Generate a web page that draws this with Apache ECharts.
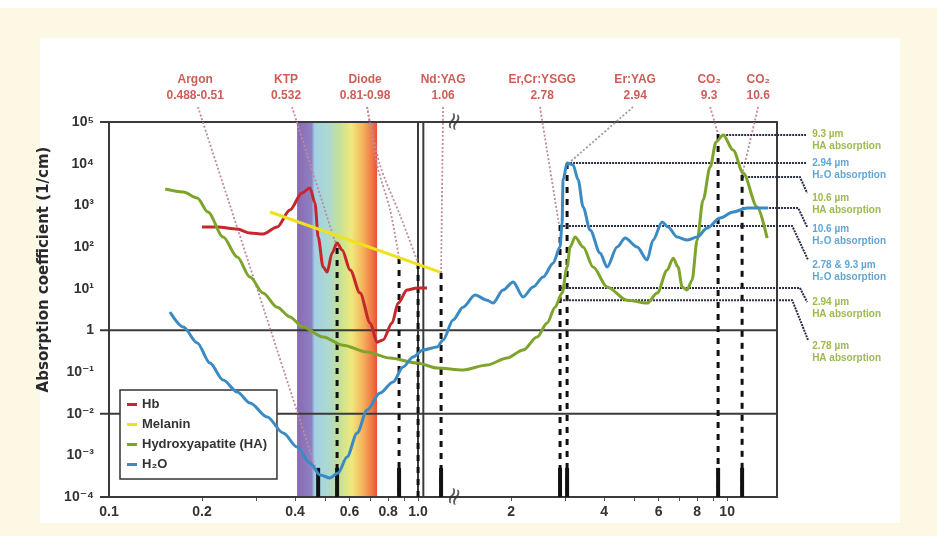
<!DOCTYPE html>
<html>
<head>
<meta charset="utf-8">
<script src="https://cdn.jsdelivr.net/npm/echarts@6/dist/echarts.min.js"></script>
<style>
  html, body { margin: 0; padding: 0; background: #fcf8e4; }
  #chart { width: 937px; height: 536px; }
</style>
</head>
<body>
<div id="chart"></div>
<script>
// wavelength (um) vs absorption coefficient (1/cm)
const hbData = [[0.200,302],[0.224,302],[0.260,270],[0.286,217],[0.315,205],[0.350,302],[0.385,773],[0.421,1977],[0.447,2606],[0.464,1138],[0.475,174],[0.493,33],[0.508,25],[0.527,72],[0.547,125],[0.568,85],[0.603,28],[0.649,7.9],[0.700,1.5],[0.737,0.52],[0.770,0.59],[0.824,1.5],[0.862,4.5],[0.921,9.3],[0.993,10.4],[1.069,10.4]]
const melaninData = [[0.332,692],[1.178,25]]
const haData = [[0.152,2466],[0.174,2089],[0.193,1500],[0.209,692],[0.234,174],[0.260,57.5],[0.286,19],[0.315,7.9],[0.350,3.6],[0.385,2.1],[0.424,1.2],[0.493,0.69],[0.572,0.44],[0.684,0.30],[0.812,0.217],[0.993,0.164],[1.152,0.125],[1.398,0.112],[1.672,0.147],[1.941,0.217],[2.187,0.337],[2.427,0.69],[2.616,1.5],[2.776,3.6],[2.924,7.9],[3.035,33],[3.104,100],[3.222,174],[3.42,100],[3.685,33],[4.09,11],[4.747,5.3],[5.51,4.5],[5.94,7.9],[6.40,28],[6.69,54],[6.94,33],[7.15,11],[7.42,9.3],[7.70,16],[8.00,147],[8.36,1343],[8.81,8318],[9.21,33113],[9.71,48753],[10.45,21280],[11.27,5970],[12.51,912],[13.47,164]]
const waterData = [[0.1575,2.75],[0.174,1.2],[0.193,0.50],[0.212,0.164],[0.234,0.0643],[0.260,0.0331],[0.286,0.018],[0.325,0.0083],[0.366,0.00344],[0.406,0.00158],[0.447,0.000655],[0.482,0.000337],[0.519,0.000286],[0.551,0.000377],[0.589,0.000912],[0.635,0.00344],[0.684,0.0122],[0.753,0.0313],[0.830,0.0575],[0.894,0.132],[0.963,0.229],[1.038,0.337],[1.152,0.398],[1.205,0.59],[1.298,1.77],[1.398,3.6],[1.529,7.0],[1.672,5.3],[1.748,4.5],[1.884,9.3],[2.03,14.5],[2.187,6.3],[2.356,11],[2.539,19],[2.735,41],[2.88,100],[2.924,377],[2.946,4055],[3.035,10375],[3.175,9290],[3.296,4055],[3.42,912],[3.603,256],[3.88,72],[4.09,33],[4.406,100],[4.677,164],[5.114,100],[5.51,48.8],[5.76,147],[6.16,398],[6.44,302],[6.89,174],[7.42,147],[8.00,174],[8.62,286],[9.49,497],[10.45,692],[11.61,863],[13.57,863]]

// axes
const xMin = 0.1, xMax = 14.5
const yMin = 1e-4, yMax = 1e5
const xTickValues = [0.1,0.2,0.4,0.6,0.8,1,2,4,6,8,10]
const xTickText = ['0.1','0.2','0.4','0.6','0.8','1.0','2','4','6','8','10']
const xMinorTicks = [0.2,0.3,0.4,0.5,0.6,0.7,0.8,0.9,1,2,3,4,5,6,7,8,9,10]
const gridLevels = [1e5,1,1e-2,1e-4]
const gridStartX = 0.0935
const axisBreakX = 1.04
const breakMarkX = 1.32
const visibleBand = [0.406,0.737]

// lasers
const laserLabels = ['Argon\n0.488-0.51','KTP\n0.532','Diode\n0.81-0.98','Nd:YAG\n1.06','Er,Cr:YSGG\n2.78','Er:YAG\n2.94','CO\u2082\n9.3','CO\u2082\n10.6']
const laserLabelX = [0.19,0.374,0.674,1.205,2.52,5.04,8.74,12.6]
const laserLabelY = 6.55e5
const dashX = [0.547,0.868,1.0,1.187,2.88,3.035,9.35,11.18]
const dashTop = [94.6,54.5,41.3,23.8,337,10375,51500,5400]
const stubX = [0.475,0.547,0.868,1.187,2.88,3.035,9.35,11.18]
const stubTop = 5e-4
const leaderPaths = [
  [[0.194,2.29e5],[0.468,4.46e-4]],
  [[0.391,2.29e5],[0.547,94.6]],
  [[0.684,2.29e5],[0.737,9290],[0.812,773],[0.868,54.5]],
  [[0.684,2.29e5],[0.753,9290],[0.874,586],[1.0,41.3]],
  [[1.205,2.29e5],[1.187,23.8]],
  [[2.48,2.29e5],[2.86,337]],
  [[4.96,2.29e5],[3.104,10960]],
  [[8.81,2.29e5],[9.35,51500]],
  [[12.6,2.29e5],[11.18,5400]]
]

// right-hand annotations
const annoText = ['9.3 \u00b5m\nHA absorption','2.94 \u00b5m\nH\u2082O absorption','10.6 \u00b5m\nHA absorption','10.6 \u00b5m\nH\u2082O absorption','2.78 & 9.3 \u00b5m\nH\u2082O absorption','2.94 \u00b5m\nHA absorption','2.78 \u00b5m\nHA absorption']
const annoKind = ['HA','H2O','HA','H2O','H2O','HA','HA']
const annoLabelX = 18.84
const annoLabelY = [37000,7244,1047,189,26.5,3.34,0.294]
const annoPaths = [
  [[9.71,48750],[18.0,48750]],
  [[3.035,10375],[18.0,10375]],
  [[11.18,4786],[17.2,4786],[18.15,1977]],
  [[11.18,863],[16.98,863],[18.15,302]],
  [[2.88,319],[16.24,319],[18.28,48.8]],
  [[2.88,10.4],[17.2,10.4],[18.15,4.8]],
  [[2.88,5.3],[16.24,5.3],[18.28,0.58]]
]

const FONT = "'Liberation Sans', 'DejaVu Sans', sans-serif"
const RED = '#c4282c', YEL = '#efe21c', GRN = '#7fa42c', BLU = '#3a8bc3'
const annoColor = { HA: '#86a824', H2O: '#3b8ec6' }
const SUP = { '-': '\u207b', '0': '\u2070', '1': '\u00b9', '2': '\u00b2', '3': '\u00b3', '4': '\u2074', '5': '\u2075' }

// polylines in data space; custom series so they may run past the axis range
function pathSeries(paths, styleOf, z, smooth) {
  return {
    type: 'custom', clip: false, silent: true, z: z,
    data: paths.map(p => p[0]),
    renderItem: (params, api) => {
      const p = paths[params.dataIndex]
      return {
        type: 'polyline',
        shape: { points: p.map(pt => api.coord(pt)), smooth: smooth || 0 },
        style: Object.assign({ fill: null }, styleOf(params.dataIndex))
      }
    }
  }
}

function curve(name, data, color) {
  return {
    type: 'line', name: name, data: data, symbol: 'none', clip: false,
    smooth: 0.3, smoothMonotone: 'x', z: 6,
    itemStyle: { color: color },
    lineStyle: { color: color, width: 3 }
  }
}

const series = []

// visible spectrum band
series.push({
  type: 'line', data: [[visibleBand[0], yMin]], symbol: 'none', silent: true, z: 1,
  lineStyle: { width: 0 },
  markArea: {
    silent: true,
    itemStyle: {
      color: new echarts.graphic.LinearGradient(0, 0, 1, 0, [
        { offset: 0, color: '#8a6ab0' }, { offset: 0.18, color: '#8e80c2' },
        { offset: 0.22, color: '#a2d1e4' }, { offset: 0.4, color: '#aed9d0' },
        { offset: 0.52, color: '#c2e098' }, { offset: 0.68, color: '#efe97c' },
        { offset: 0.82, color: '#f5b45c' }, { offset: 0.93, color: '#f07c46' },
        { offset: 1, color: '#e9503a' }
      ])
    },
    data: [[{ coord: [visibleBand[0], yMin] }, { coord: [visibleBand[1], yMax] }]]
  }
})

// reference lines, break line
const refPaths = gridLevels.map(v => [[gridStartX, v], [xMax, v]])
refPaths.push([[axisBreakX, yMin], [axisBreakX, yMax]])
series.push(pathSeries(refPaths, () => ({ stroke: '#3a3a3a', lineWidth: 2 }), 2))

// laser wavelength markers
series.push(pathSeries(dashX.map((x, i) => [[x, dashTop[i]], [x, yMin]]),
  () => ({ stroke: '#111', lineWidth: 3, lineDash: [6, 6] }), 3))
series.push(pathSeries(stubX.map(x => [[x, stubTop], [x, yMin]]),
  () => ({ stroke: '#111', lineWidth: 4 }), 3))
series.push(pathSeries(leaderPaths,
  i => ({ stroke: i === 6 ? '#9c9aa8' : '#c08aa0', lineWidth: 1.8, lineDash: [2, 2] }), 3, 0.3))

// right-hand leaders
series.push(pathSeries(annoPaths, () => ({ stroke: '#2b2d45', lineWidth: 2, lineDash: [2, 1] }), 3))

// curves
series.push(curve('Hb', hbData, RED))
series.push(curve('Melanin', melaninData, YEL))
series.push(curve('Hydroxyapatite (HA)', haData, GRN))
series.push(curve('H\u2082O', waterData, BLU))

// laser names above the frame
series.push({
  type: 'scatter', symbolSize: 0, clip: false, silent: true, z: 7,
  data: laserLabels.map((t, i) => ({ name: t, value: [laserLabelX[i], laserLabelY] })),
  label: {
    show: true, position: 'inside', formatter: '{b}', color: '#c2332d',
    fontFamily: FONT, fontWeight: 'bold', fontSize: 12, lineHeight: 16
  }
})

// annotation texts on the right
series.push({
  type: 'scatter', symbolSize: 0, clip: false, silent: true, z: 7,
  data: annoText.map((t, i) => ({
    name: t, value: [annoLabelX, annoLabelY[i]],
    label: { color: annoColor[annoKind[i]] }
  })),
  label: {
    show: true, position: 'right', distance: 0, formatter: '{b}', align: 'left',
    fontFamily: FONT, fontWeight: 'bold', fontSize: 10, lineHeight: 12
  }
})

// axis break marks
series.push({
  type: 'scatter', symbolSize: 0, clip: false, silent: true, z: 7,
  data: [[breakMarkX, yMax], [breakMarkX, yMin]],
  label: { show: true, position: 'inside', formatter: '\u2248', rotate: 70, fontSize: 24, color: '#333', fontFamily: 'DejaVu Sans' }
})

const chart = echarts.init(document.getElementById('chart'))
chart.setOption({
  animation: false,
  backgroundColor: '#fcf8e4',
  textStyle: { fontFamily: FONT },
  graphic: [
    { type: 'rect', z: -10, shape: { x: 0, y: 0, width: 937, height: 8 }, style: { fill: '#ffffff' } },
    { type: 'rect', z: -10, shape: { x: 40, y: 38, width: 860, height: 485 }, style: { fill: '#ffffff' } }
  ],
  grid: {
    left: 109, right: 160, top: 122, bottom: 39,
    show: true, borderColor: '#3a3a3a', borderWidth: 2, backgroundColor: 'transparent'
  },
  legend: {
    data: ['Hb', 'Melanin', 'Hydroxyapatite (HA)', 'H\u2082O'],
    orient: 'vertical', left: 120, top: 390,
    icon: 'rect', itemWidth: 10, itemHeight: 3, itemGap: 7,
    padding: [8, 10, 8, 7],
    backgroundColor: '#ffffff', borderColor: '#333', borderWidth: 1.5, borderRadius: 0,
    textStyle: { fontFamily: FONT, fontWeight: 'bold', fontSize: 13, color: '#333' }
  },
  xAxis: [
    {
      type: 'log', logBase: 10, min: xMin, max: xMax,
      axisLine: { show: true, lineStyle: { color: '#3a3a3a', width: 2 } },
      axisTick: { show: false }, axisLabel: { show: false }, splitLine: { show: false }
    },
    {
      type: 'value', position: 'bottom', min: Math.log10(xMin), max: Math.log10(xMax),
      axisLine: { show: false },
      axisTick: { show: true, customValues: xMinorTicks.map(Math.log10), length: 4, lineStyle: { color: '#555', width: 1 } },
      axisLabel: {
        customValues: xTickValues.map(Math.log10),
        formatter: v => {
          let best = 0
          xTickValues.forEach((t, i) => { if (Math.abs(Math.log10(t) - v) < Math.abs(Math.log10(xTickValues[best]) - v)) best = i })
          return xTickText[best]
        },
        margin: 8, fontSize: 14, fontWeight: 'bold', color: '#333', fontFamily: FONT
      },
      splitLine: { show: false }
    }
  ],
  yAxis: {
    type: 'log', logBase: 10, min: yMin, max: yMax, splitNumber: 9,
    name: 'Absorption coefficient (1/cm)', nameLocation: 'middle', nameGap: 57,
    nameTextStyle: { fontFamily: 'DejaVu Sans', fontWeight: 'bold', fontSize: 15, color: '#2a2a2a', padding: [0, 0, 0, 80] },
    axisLine: { show: true, lineStyle: { color: '#3a3a3a', width: 2 } },
    axisTick: { show: false }, splitLine: { show: false },
    axisLabel: {
      margin: 15, fontSize: 14, fontWeight: 'bold', color: '#333', fontFamily: FONT,
      formatter: v => {
        const e = Math.round(Math.log10(v))
        if (e === 0) return '1'
        return '10' + String(e).split('').map(c => SUP[c]).join('')
      }
    }
  },
  series: series
})
</script>
</body>
</html>
